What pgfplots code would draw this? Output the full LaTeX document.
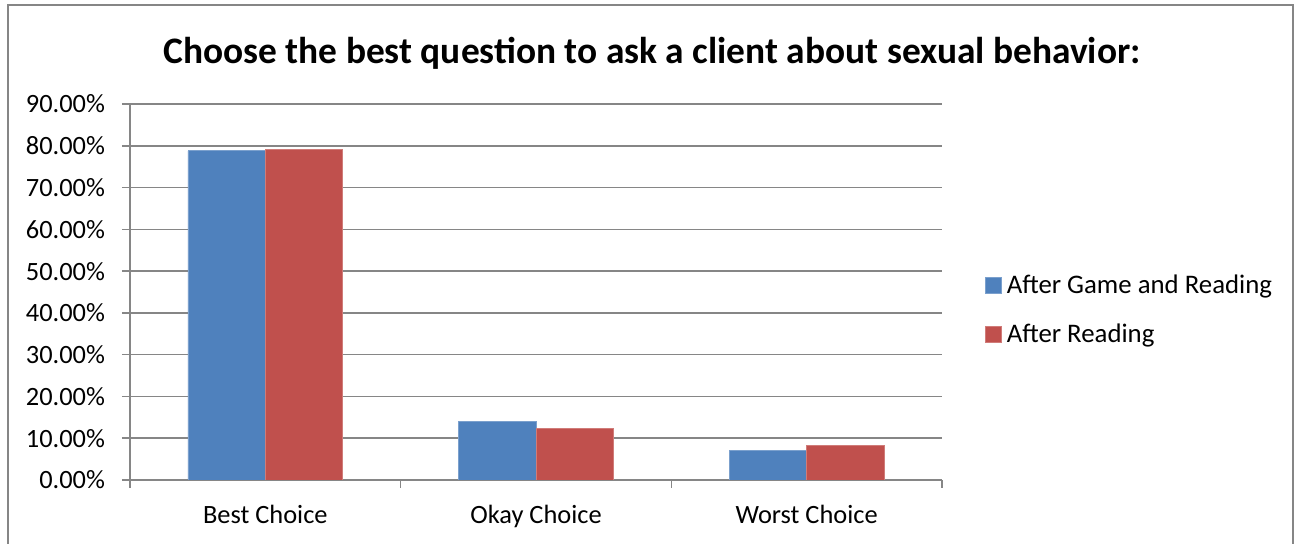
\documentclass[border=0pt]{standalone}
\usepackage{fontspec}
\setmainfont{Carlito}
\usepackage{pgfplots}
\pgfplotsset{compat=1.18}
\definecolor{cblue}{HTML}{4F81BD}
\definecolor{cred}{HTML}{C0504D}
\definecolor{cgrid}{HTML}{868686}
\begin{document}
\begin{tikzpicture}
\useasboundingbox (0pt,0pt) rectangle (649.5pt,272pt);
\draw[cgrid, line width=1pt] (4pt,-5pt) -- (4pt,269.5pt) -- (646.5pt,269.5pt) -- (646.5pt,-5pt);
\node[font=\fontsize{18.7}{22}\selectfont\bfseries] at (326pt,245.5pt) {Choose the best question to ask a client about sexual behavior:};
\begin{axis}[
  at={(65pt,32pt)}, anchor=south west,
  scale only axis, width=406pt, height=188pt,
  ybar=0pt, bar width=0.286,
  xmin=0.5, xmax=3.5, ymin=0, ymax=90,
  xtick={1,2,3}, xticklabels={Best Choice, Okay Choice, Worst Choice},
  major x tick style={draw=none},
  minor xtick={0.5,1.5,2.5,3.5},
  ytick={0,10,...,90},
  ymajorgrids, grid style={cgrid, line width=0.75pt},
  axis x line*=bottom, axis y line*=left,
  axis line style={cgrid, line width=0.75pt},
  tick align=outside, major tick length=4pt, minor tick length=4pt,
  tick style={cgrid, line width=0.75pt},
  /pgf/number format/assume math mode=true,
  yticklabel={\pgfmathprintnumber[fixed,fixed zerofill,precision=2]{\tick}\%},
  ticklabel style={font=\fontsize{13.2}{15}\selectfont},
  yticklabel style={xshift=-5pt},
  xticklabel style={yshift=-5pt},
  legend style={at={(1.045,0.452)}, anchor=west, draw=none, fill=none,
    font=\fontsize{13.4}{15}\selectfont, row sep=10pt,
    /tikz/every odd column/.append style={column sep=0.5pt}},
  legend cell align=left,
  legend image code/.code={\fill[#1] (0pt,-4pt) rectangle (8pt,4pt);},
]
\addplot[fill=cblue, draw=cblue!75!white, line width=0.4pt] coordinates {(1,78.8) (2,14.0) (3,7.0)};
\addplot[fill=cred, draw=cred!75!white, line width=0.4pt] coordinates {(1,79.1) (2,12.3) (3,8.2)};
\legend{After Game and Reading, After Reading}
\end{axis}
\end{tikzpicture}
\end{document}
